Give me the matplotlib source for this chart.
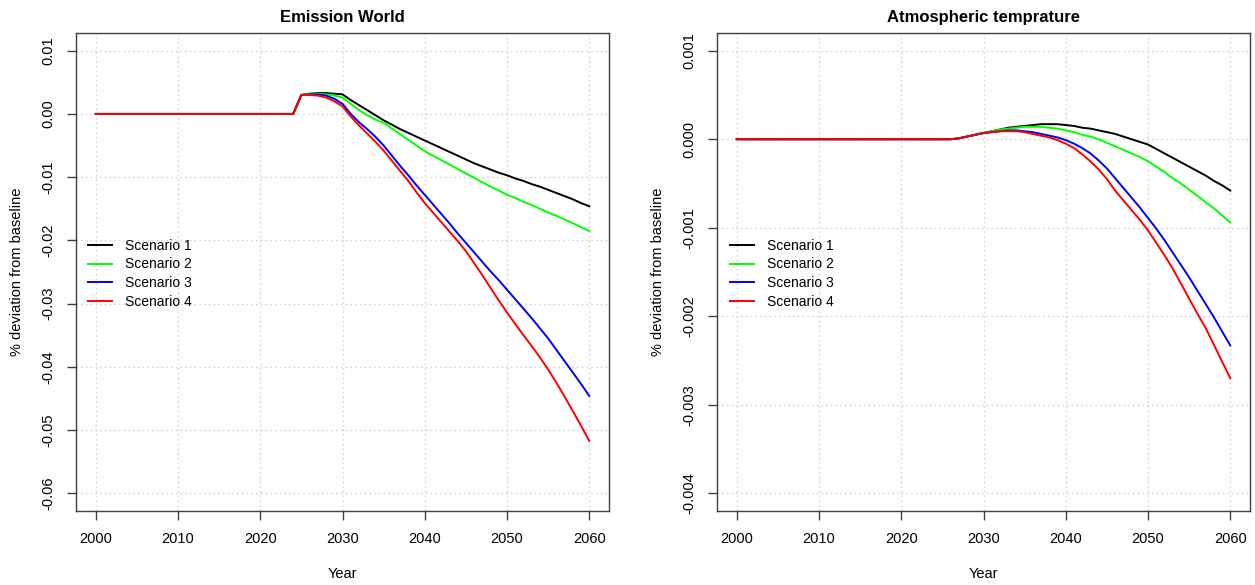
import matplotlib
matplotlib.use("Agg")
import matplotlib.pyplot as plt
from matplotlib.ticker import FormatStrFormatter

plt.rcParams['font.family'] = ['Liberation Sans', 'DejaVu Sans']

# years: 2000, then every year 2024..2060
years = [2000] + list(range(2024, 2061))
scenarios = ["Scenario 1", "Scenario 2", "Scenario 3", "Scenario 4"]
line_colors = ["black", "#00FF00", "#0000FF", "#FF0000"]

# Emission World, % deviation from baseline
em_s1 = [0, 0,
         0.0030, 0.0032, 0.0033, 0.0033, 0.0032, 0.0031,
         0.0022, 0.0014, 0.0006, -0.0002, -0.0010, -0.0017, -0.0024, -0.0030, -0.0036, -0.0042,
         -0.0048, -0.0054, -0.0060, -0.0066, -0.0072, -0.0078, -0.0083, -0.0088, -0.0093, -0.0097,
         -0.0102, -0.0106, -0.0111, -0.0115, -0.0120, -0.0125, -0.0130, -0.0135, -0.0141, -0.0146]
em_s2 = [0, 0,
         0.0030, 0.0032, 0.0032, 0.0031, 0.0029, 0.0026,
         0.0016, 0.0006, -0.0002, -0.0009, -0.0014, -0.0023, -0.0032, -0.0041, -0.0050, -0.0059,
         -0.0066, -0.0073, -0.0080, -0.0087, -0.0094, -0.0101, -0.0108, -0.0115, -0.0121, -0.0128,
         -0.0133, -0.0139, -0.0144, -0.0150, -0.0156, -0.0161, -0.0167, -0.0173, -0.0179, -0.0185]
em_s3 = [0, 0,
         0.0030, 0.0031, 0.0031, 0.0029, 0.0024, 0.0016,
         0.0000, -0.0013, -0.0024, -0.0036, -0.0050, -0.0066, -0.0082, -0.0097, -0.0113, -0.0128,
         -0.0143, -0.0158, -0.0173, -0.0189, -0.0204, -0.0219, -0.0234, -0.0249, -0.0263, -0.0278,
         -0.0293, -0.0308, -0.0323, -0.0339, -0.0355, -0.0373, -0.0391, -0.0409, -0.0427, -0.0446]
em_s4 = [0, 0,
         0.0030, 0.0030, 0.0029, 0.0026, 0.0020, 0.0012,
         -0.0004, -0.0018, -0.0031, -0.0044, -0.0058, -0.0074, -0.0090, -0.0106, -0.0124, -0.0141,
         -0.0156, -0.0171, -0.0186, -0.0201, -0.0217, -0.0236, -0.0255, -0.0275, -0.0295, -0.0314,
         -0.0332, -0.0350, -0.0367, -0.0385, -0.0404, -0.0425, -0.0447, -0.0470, -0.0493, -0.0517]

# Atmospheric temperature, % deviation from baseline
tp_s1 = [0, 0,
         0.0, 0.0, 0.00001, 0.00003, 0.00005, 0.00007,
         0.00009, 0.00011, 0.00013, 0.00014, 0.00015, 0.00016, 0.00017, 0.00017, 0.00017, 0.00016,
         0.00015, 0.00013, 0.00012, 0.00010, 0.00008, 0.00006, 0.00003, 0.00000, -0.00003, -0.00006,
         -0.00011, -0.00016, -0.00021, -0.00026, -0.00031, -0.00036, -0.00041, -0.00047, -0.00052, -0.00058]
tp_s2 = [0, 0,
         0.0, 0.0, 0.00001, 0.00003, 0.00005, 0.00007,
         0.00009, 0.00011, 0.00012, 0.00013, 0.00014, 0.00014, 0.00014, 0.00013, 0.00012, 0.00010,
         0.00008, 0.00005, 0.00003, 0.00000, -0.00004, -0.00008, -0.00012, -0.00016, -0.00020, -0.00025,
         -0.00031, -0.00037, -0.00044, -0.00050, -0.00057, -0.00064, -0.00071, -0.00078, -0.00086, -0.00094]
tp_s3 = [0, 0,
         0.0, 0.0, 0.00001, 0.00003, 0.00005, 0.00007,
         0.00008, 0.00009, 0.00010, 0.00010, 0.00009, 0.00008, 0.00006, 0.00004, 0.00002, -0.00001,
         -0.00005, -0.00010, -0.00016, -0.00024, -0.00033, -0.00044, -0.00055, -0.00066, -0.00077, -0.00089,
         -0.00101, -0.00114, -0.00128, -0.00142, -0.00156, -0.00171, -0.00186, -0.00201, -0.00217, -0.00233]
tp_s4 = [0, 0,
         0.0, 0.0, 0.00001, 0.00003, 0.00005, 0.00007,
         0.00008, 0.00009, 0.00009, 0.00009, 0.00008, 0.00006, 0.00004, 0.00002, -0.00001, -0.00005,
         -0.00010, -0.00017, -0.00025, -0.00034, -0.00045, -0.00058, -0.00069, -0.00080, -0.00091, -0.00103,
         -0.00117, -0.00131, -0.00146, -0.00163, -0.00180, -0.00197, -0.00213, -0.00232, -0.00251, -0.00270]

x_ticks = [2000, 2010, 2020, 2030, 2040, 2050, 2060]
em_ticks = [0.01, 0.0, -0.01, -0.02, -0.03, -0.04, -0.05, -0.06]
tp_ticks = [0.001, 0.0, -0.001, -0.002, -0.003, -0.004]


def rPanel(ax, series, title, yticks, fmt, legx):
    for vals, col, lab in zip(series, line_colors, scenarios):
        ax.plot(years, vals, color=col, lw=1.4, label=lab)
    lo, hi = min(yticks), max(yticks)
    ext = 0.04 * (hi - lo)  # R style axis padding
    ax.set_ylim(lo - ext, hi + ext)
    ax.set_xlim(2000 - 0.04 * 60, 2060 + 0.04 * 60)
    ax.set_xticks(x_ticks)
    ax.set_yticks(yticks)
    ax.yaxis.set_major_formatter(FormatStrFormatter(fmt))
    ax.grid(True, color="#D3D3D3", linestyle=(0, (1.2, 2.2)), lw=1)
    ax.set_axisbelow(True)
    for s in ax.spines.values():
        s.set_color("#404040")
        s.set_linewidth(1)
    ax.tick_params(direction="out", length=6.5, width=1, color="#404040",
                   labelsize=10.5, pad=8.5, labelcolor="black")
    for lbl in ax.get_yticklabels():
        lbl.set_rotation(90)
        lbl.set_va("center")
    ax.set_title(title, fontsize=12, fontweight="bold", pad=8)
    ax.set_xlabel("Year", fontsize=10.5, labelpad=15)
    ax.set_ylabel("% deviation from baseline", fontsize=10.5, labelpad=12)
    ax.legend(loc="upper left", bbox_to_anchor=(legx, 0.57), frameon=False,
              fontsize=10, handlelength=1.75, handletextpad=0.95, labelspacing=0.35,
              borderpad=0, borderaxespad=0)


fig = plt.figure(figsize=(12.55, 5.85), dpi=100)
ax1 = fig.add_axes([76 / 1255, 1 - 511 / 585, 533 / 1255, 478 / 585])
ax2 = fig.add_axes([717 / 1255, 1 - 511 / 585, 533 / 1255, 478 / 585])

rPanel(ax1, [em_s1, em_s2, em_s3, em_s4], "Emission World", em_ticks, "%.2f", 0.0225)
rPanel(ax2, [tp_s1, tp_s2, tp_s3, tp_s4], "Atmospheric temprature", tp_ticks, "%.3f", 0.024)

fig.savefig("out.png", dpi=100)
